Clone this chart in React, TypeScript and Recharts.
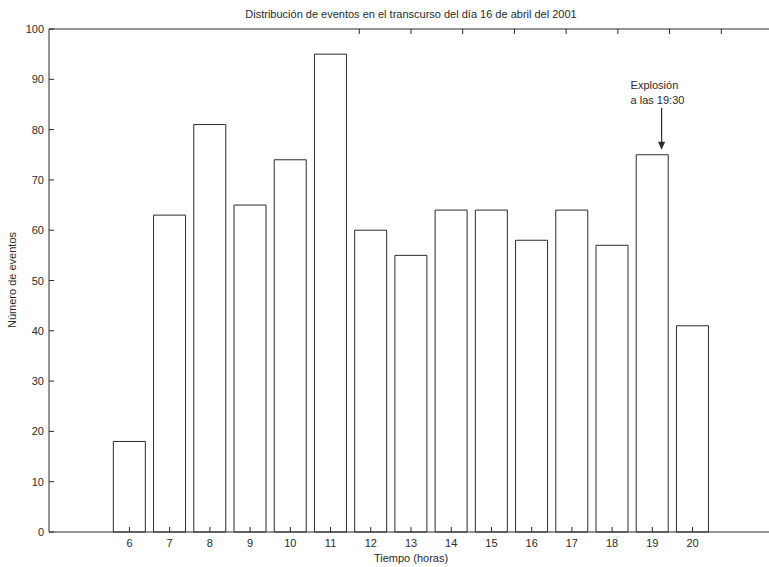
import React from 'react';
import { BarChart, Bar, XAxis, YAxis, ReferenceLine } from 'recharts';

// Hourly event counts for 16 April 2001
const hours = [6, 7, 8, 9, 10, 11, 12, 13, 14, 15, 16, 17, 18, 19, 20];
const events = [18, 63, 81, 65, 74, 95, 60, 55, 64, 64, 58, 64, 57, 75, 41];
const yTicks = [0, 10, 20, 30, 40, 50, 60, 70, 80, 90, 100];

// where the explosion arrow sits (hour, from / to count)
const arrowHour = 19.23;
const arrowFrom = 84.3;
const arrowTo = 76;
const noteLines = ['Explosión', 'a las 19:30'];

const data = hours.map((h, i) => ({ hour: h, count: events[i] }));

const INK = '#2a2a2a';
const FONT = '"Liberation Sans", Arial, sans-serif';

const W = 790;
const H = 567;
// plot box edges
const LEFT = 49;
const TOP = 29;
const BOTTOM = 532;
const RIGHT = 773;
const TICK = 5;

// MATLAB-style ticks: short marks pointing into the box
const BottomTick = (p: any) => (
  <g>
    <line x1={p.x} y1={BOTTOM} x2={p.x} y2={BOTTOM - TICK} stroke={INK} />
    <text x={p.x} y={BOTTOM + 15} textAnchor="middle" fontSize={11} fontFamily={FONT} fill={INK}>
      {p.payload.value}
    </text>
  </g>
);
const TopTick = (p: any) => (
  <line x1={p.x} y1={TOP} x2={p.x} y2={TOP + TICK} stroke={INK} />
);
const LeftTick = (p: any) => (
  <g>
    <line x1={LEFT} y1={p.y} x2={LEFT + TICK} y2={p.y} stroke={INK} />
    <text x={LEFT - 5} y={p.y + 4} textAnchor="end" fontSize={11} fontFamily={FONT} fill={INK}>
      {p.payload.value}
    </text>
  </g>
);
const RightTick = (p: any) => (
  <line x1={RIGHT} y1={p.y} x2={RIGHT - TICK} y2={p.y} stroke={INK} />
);

const ArrowNote = (p: any) => {
  const { x1, y1, x2, y2 } = p;
  return (
    <g>
      <line x1={x1} y1={y1} x2={x2} y2={y2 - 7} stroke={INK} strokeWidth={1.2} />
      <polygon points={`${x2 - 3.5},${y2 - 8} ${x2 + 3.5},${y2 - 8} ${x2},${y2}`} fill={INK} />
      {noteLines.map((t, i) => (
        <text key={t} x={x1 - 31} y={y1 - 19 + i * 15} fontSize={11} fontFamily={FONT} fill={INK}>
          {t}
        </text>
      ))}
    </g>
  );
};

export default function App() {
  return (
    <div style={{ position: 'fixed', left: 0, top: 0, width: 769, height: 567, overflow: 'hidden', background: '#fff' }}>
      <BarChart width={W} height={H} data={data} margin={{ top: 0, right: 0, bottom: 0, left: 0 }}>
        <XAxis
          dataKey="hour"
          type="number"
          domain={[4, 22]}
          ticks={hours}
          height={H - BOTTOM}
          tickLine={false}
          stroke={INK}
          tick={BottomTick}
          interval={0}
        />
        <XAxis
          xAxisId="top"
          orientation="top"
          type="number"
          domain={[4, 22]}
          ticks={hours}
          height={TOP}
          tickLine={false}
          tick={TopTick}
          stroke={INK}
          interval={0}
        />
        <YAxis
          type="number"
          domain={[0, 100]}
          ticks={yTicks}
          width={LEFT}
          tickLine={false}
          stroke={INK}
          tick={LeftTick}
          interval={0}
        />
        <YAxis
          yAxisId="right"
          orientation="right"
          type="number"
          domain={[0, 100]}
          ticks={yTicks}
          width={W - RIGHT}
          tickLine={false}
          tick={RightTick}
          stroke={INK}
          interval={0}
        />
        <Bar dataKey="count" barSize={32} fill="#fff" stroke={INK} strokeWidth={1} isAnimationActive={false} />
        <ReferenceLine
          segment={[{ x: arrowHour, y: arrowFrom }, { x: arrowHour, y: arrowTo }]}
          shape={ArrowNote}
        />
        <text x={411} y={18} textAnchor="middle" fontSize={11} fontFamily={FONT} fill={INK}>
          Distribución de eventos en el transcurso del día 16 de abril del 2001
        </text>
        <text x={411} y={562} textAnchor="middle" fontSize={11} fontFamily={FONT} fill={INK}>
          Tiempo  (horas)
        </text>
        <text
          x={16}
          y={280}
          textAnchor="middle"
          fontSize={11}
          fontFamily={FONT}
          fill={INK}
          transform="rotate(-90 16 280)"
        >
          Número de eventos
        </text>
      </BarChart>
    </div>
  );
}
